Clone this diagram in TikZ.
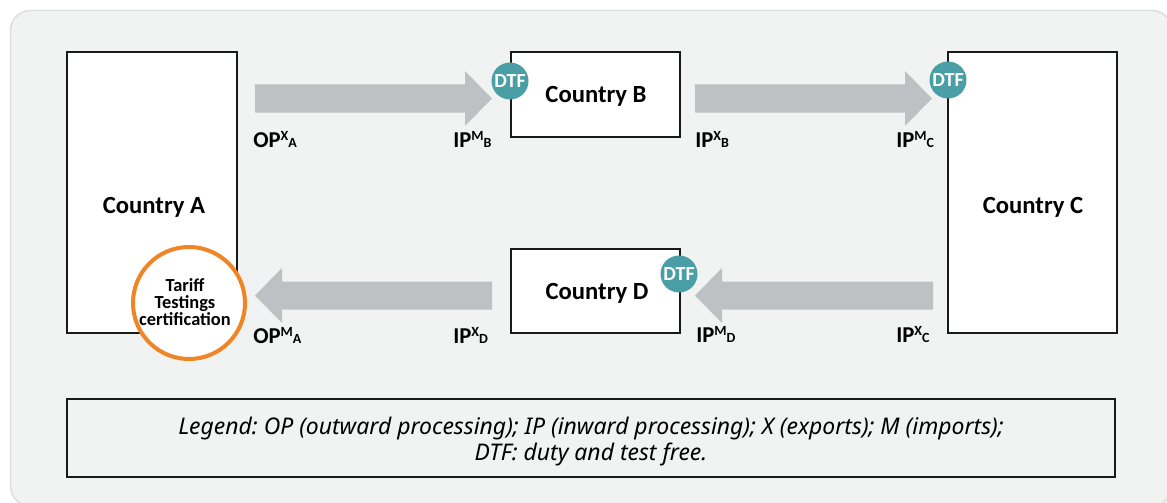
\documentclass[tikz,border=0pt]{standalone}
\usepackage{fontspec}
\setmainfont{Carlito}
\newfontfamily\legendfont{Noto Sans}
\usetikzlibrary{fit,calc}
\frenchspacing
\definecolor{bgc}{HTML}{F1F2F2}
\definecolor{bgline}{HTML}{DCDDDD}
\definecolor{arrowc}{HTML}{BDC1C3}
\definecolor{tealc}{HTML}{4A9EA5}
\definecolor{orangec}{HTML}{EF8524}
\newcommand{\flowlab}[3]{\textbf{#1\raisebox{0.28em}{\fontsize{10.5}{11}\selectfont #2}{\fontsize{10.5}{11}\selectfont #3}}}
\tikzset{
  countrybox/.style={draw=black!90, line width=1.5pt, fill=white, inner sep=0pt},
  countrylabel/.style={font=\fontsize{18.5}{20}\selectfont\bfseries, inner sep=0pt},
  dtfnode/.style={circle, fill=tealc, text=white, minimum size=27.75pt, inner sep=0pt, font=\fontsize{15}{15}\selectfont\bfseries},
  flowarrow/.style={fill=arrowc, draw=none},
  flowtext/.style={anchor=base west, inner sep=0pt, font=\fontsize{17}{18}\selectfont},
  certnode/.style={circle, draw=orangec, line width=3pt, fill=white, minimum size=84pt, inner sep=0pt},
  certtext/.style={align=center, inner sep=0pt, font=\fontsize{13.8}{12.6}\selectfont\bfseries},
  legendbox/.style={draw=black!90, line width=1.5pt, fill=bgc, inner sep=0pt},
  legendtext/.style={align=center, inner sep=0pt, font=\legendfont\itshape\fontsize{17.2}{19.5}\selectfont}
}
\begin{document}
\begin{tikzpicture}[x=0.75pt,y=-0.75pt]
\useasboundingbox (0,0) rectangle (1167,503);
% background panel
\draw[fill=bgc, draw=bgline, line width=1.1pt, rounded corners=15pt] (10.5,10.5) rectangle (1172,506);

% arrow anchor coordinates
\coordinate (a1s) at (255,98.5);
\coordinate (a1e) at (492,98.5);
\coordinate (a2s) at (695,98.5);
\coordinate (a2e) at (932,98.5);
\coordinate (a3s) at (933,295.5);
\coordinate (a3e) at (695,295.5);
\coordinate (a4s) at (492,295.5);
\coordinate (a4e) at (255,295.5);

% rightward arrows
\fill[flowarrow] ($(a1s)+(0,-14)$) -- ($(a1e)+(-27,-14)$) -- ($(a1e)+(-27,-27.5)$) -- (a1e) -- ($(a1e)+(-27,27.5)$) -- ($(a1e)+(-27,14)$) -- ($(a1s)+(0,14)$) -- cycle;
\fill[flowarrow] ($(a2s)+(0,-14)$) -- ($(a2e)+(-27,-14)$) -- ($(a2e)+(-27,-27.5)$) -- (a2e) -- ($(a2e)+(-27,27.5)$) -- ($(a2e)+(-27,14)$) -- ($(a2s)+(0,14)$) -- cycle;
% leftward arrows
\fill[flowarrow] ($(a3s)+(0,-14)$) -- ($(a3e)+(27,-14)$) -- ($(a3e)+(27,-27.5)$) -- (a3e) -- ($(a3e)+(27,27.5)$) -- ($(a3e)+(27,14)$) -- ($(a3s)+(0,14)$) -- cycle;
\fill[flowarrow] ($(a4s)+(0,-14)$) -- ($(a4e)+(27,-14)$) -- ($(a4e)+(27,-27.5)$) -- (a4e) -- ($(a4e)+(27,27.5)$) -- ($(a4e)+(27,14)$) -- ($(a4s)+(0,14)$) -- cycle;

% country boxes
\node[countrybox, fit={(67,52) (237,333)}] (A) {};
\node[countrybox, fit={(511,52) (680,137)}] (B) {};
\node[countrybox, fit={(948,52) (1117,333)}] (C) {};
\node[countrybox, fit={(511,249) (680,333)}] (D) {};
\node[countrylabel] (Alab) at (154,207) {Country A};
\node[countrylabel] (Blab) at (596,96) {Country B};
\node[countrylabel] (Clab) at (1033,207) {Country C};
\node[countrylabel] (Dlab) at (597,293) {Country D};

% DTF badges
\node[dtfnode] (dtfB) at (510,81) {DTF};
\node[dtfnode] (dtfC) at (948,80) {DTF};
\node[dtfnode] (dtfD) at (679,274) {DTF};

% certification circle
\node[certnode] (cert) at (189,303) {};
\node[certtext] (certt) at (185,302) {Tariff\\Testings\\certification};

% flow labels
\node[flowtext] (l1) at (253,147) {\flowlab{OP}{X}{A}};
\node[flowtext] (l2) at (453,147) {\flowlab{IP}{M}{B}};
\node[flowtext] (l3) at (695,147) {\flowlab{IP}{X}{B}};
\node[flowtext] (l4) at (896,147) {\flowlab{IP}{M}{C}};
\node[flowtext] (l5) at (253,343) {\flowlab{OP}{M}{A}};
\node[flowtext] (l6) at (453,343) {\flowlab{IP}{X}{D}};
\node[flowtext] (l7) at (696,342) {\flowlab{IP}{M}{D}};
\node[flowtext] (l8) at (896,342) {\flowlab{IP}{X}{C}};

% legend
\node[legendbox, fit={(67,399) (1115,477)}] (leg) {};
\node[legendtext] (legt) at (591,442) {Legend: OP (outward processing); IP (inward processing); X (exports); M (imports);\\DTF: duty and test free.};
\end{tikzpicture}
\end{document}
